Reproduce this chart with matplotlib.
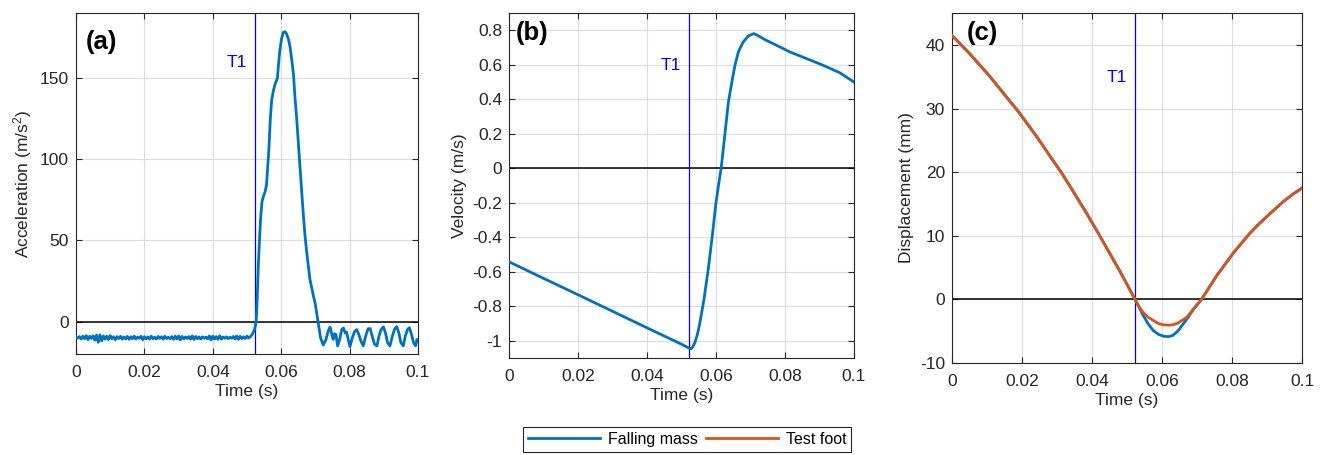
import numpy as np
import matplotlib
matplotlib.use("Agg")
import matplotlib.pyplot as plt

plt.rcParams['font.family'] = ['Liberation Sans', 'DejaVu Sans']
plt.rcParams['mathtext.default'] = 'regular'
plt.rcParams['axes.unicode_minus'] = False

T1 = 0.0523

# (a) acceleration, falling mass
acc_pre = [-9.6, -10.2, -9.3, -10.8, -9.0, -10.6, -8.7, -11.2, -9.1, -10.4,
           -8.8, -11.5, -8.4, -12.8, -8.2, -11.9, -8.9, -10.9, -9.0, -11.1,
           -8.7, -10.6, -9.4, -11.2, -9.3, -10.5, -9.1, -10.9, -9.5, -10.7,
           -9.2, -11.0, -9.4, -10.6, -9.0, -10.8, -9.6, -10.3, -9.1, -11.2,
           -9.3, -10.7, -9.5, -10.9, -9.0, -10.6, -9.6, -10.8, -9.2, -10.4,
           -9.4, -10.9, -9.1, -10.5, -9.7, -10.6, -9.3, -11.0, -9.0, -10.8,
           -8.9, -11.3, -9.2, -10.7, -9.5, -10.4, -9.3, -10.9, -8.8, -11.1,
           -9.2, -10.6, -9.5, -10.8, -9.4, -10.3, -9.6, -10.7, -8.9, -11.4,
           -9.0, -10.8, -9.3, -11.0, -8.8, -10.9, -9.5, -10.4, -9.4, -10.6,
           -9.7, -10.3, -9.2, -10.8, -8.9, -11.0, -9.1, -10.6, -9.4, -10.5,
           -9.0, -10.2, -9.3, -8.0]
t_acc_pre = np.arange(len(acc_pre)) * 0.0005

t_acc_post = [0.0522, 0.0527, 0.0530, 0.0533, 0.0537, 0.0540, 0.0544, 0.0548,
              0.0553, 0.0557, 0.0561, 0.0564, 0.0568, 0.0572, 0.0577, 0.0582,
              0.0589, 0.0592, 0.0596, 0.0601, 0.0606, 0.0611, 0.0616, 0.0621,
              0.0626, 0.0631, 0.0636, 0.0640, 0.0645, 0.0650, 0.0655, 0.0660,
              0.0665, 0.0670, 0.0675, 0.0680, 0.0684, 0.0690, 0.0695, 0.0699,
              0.0704, 0.0709, 0.0715, 0.0723, 0.0731, 0.0738, 0.0743, 0.0748,
              0.0752, 0.0756, 0.0760, 0.0765, 0.0771, 0.0777, 0.0782, 0.0787,
              0.0791, 0.0796, 0.0801, 0.0808, 0.0815, 0.0821, 0.0827, 0.0833,
              0.0840, 0.0847, 0.0854, 0.0860, 0.0866, 0.0873, 0.0880, 0.0886,
              0.0892, 0.0899, 0.0905, 0.0911, 0.0918, 0.0925, 0.0932, 0.0938,
              0.0944, 0.0950, 0.0957, 0.0963, 0.0969, 0.0975, 0.0981, 0.0987,
              0.0993, 0.0997, 0.1000]
acc_post = [-5, 0, 15, 34, 52, 64, 74, 77,
            80, 84, 97, 106, 124, 136, 142, 146,
            150, 158, 167, 174, 178, 178.5, 177, 174,
            169, 161, 152, 139, 126, 110, 95, 80,
            65, 52, 42, 33, 26, 20, 15, 11.5,
            5, -2, -10, -14.5, -11, -5.5, -3.5, -8,
            -11, -7.5, -8, -15, -11, -5, -4, -7,
            -6.5, -11, -15.5, -10, -6, -5, -8, -12,
            -15, -9, -4.5, -4.3, -9, -14, -15, -9,
            -5, -3.3, -7, -13, -15, -9, -4.5, -3.2,
            -7, -13, -15, -9, -5, -3.8, -8, -13,
            -15, -11, -12]

# (b) velocity, falling mass
t_vel = [0, 0.01, 0.02, 0.03, 0.04, 0.05, 0.0525, 0.0529, 0.0533, 0.0539,
         0.0546, 0.0552, 0.0565, 0.0578, 0.0590, 0.0600, 0.0608, 0.0615,
         0.0620, 0.0626, 0.0636, 0.0646, 0.0655, 0.0665, 0.0679, 0.0694,
         0.0710, 0.0723, 0.0742, 0.0776, 0.0814, 0.0863, 0.0911, 0.0959,
         0.1000]
vel = [-0.542, -0.638, -0.733, -0.829, -0.925, -1.02, -1.046, -1.045, -1.035,
       -1.01, -0.965, -0.91, -0.764, -0.58, -0.38, -0.20, -0.09, 0.0,
       0.09, 0.2, 0.383, 0.5, 0.597, 0.675, 0.733, 0.768,
       0.781, 0.768, 0.746, 0.713, 0.675, 0.636, 0.597, 0.554,
       0.5]

# (c) displacement
t_disp = [0, 0.0051, 0.0109, 0.0147, 0.019, 0.0242, 0.0289, 0.0313, 0.0337,
          0.0385, 0.0418, 0.0448, 0.048, 0.0523, 0.0535, 0.0547, 0.056,
          0.0575, 0.059, 0.0605, 0.0618, 0.063, 0.0645, 0.066, 0.0671,
          0.069, 0.0713, 0.0735, 0.0756, 0.078, 0.0804, 0.0828, 0.0851,
          0.0875, 0.0899, 0.0923, 0.0947, 0.0973, 0.1]
disp_mass = [41.5, 38.6, 35.0, 32.4, 29.5, 25.6, 21.8, 19.9, 17.8,
             13.5, 10.4, 7.5, 4.4, 0, -1.3, -2.6, -3.8,
             -4.9, -5.5, -5.8, -5.85, -5.7, -5.0, -3.9, -3.1,
             -1.56, 0, 1.9, 3.7, 5.5, 7.3, 8.9, 10.4,
             11.75, 13.0, 14.2, 15.4, 16.5, 17.5]
disp_foot = [41.5, 38.6, 35.0, 32.4, 29.5, 25.6, 21.8, 19.9, 17.8,
             13.5, 10.4, 7.5, 4.4, 0, -1.2, -2.1, -2.8,
             -3.3, -3.8, -4.0, -4.05, -4.0, -3.75, -3.2, -2.8,
             -1.5, 0, 1.9, 3.7, 5.5, 7.3, 8.9, 10.4,
             11.75, 13.0, 14.2, 15.4, 16.5, 17.5]

blue = '#0072BD'
red = '#D95319'
dark = '#262626'
fs = 12.5

fig = plt.figure(figsize=(13.24, 4.55), dpi=100)
ax_a = fig.add_axes([0.0574, 0.222, 0.2583, 0.7495])
ax_b = fig.add_axes([0.3844, 0.2132, 0.2606, 0.758])
ax_c = fig.add_axes([0.719, 0.2022, 0.2644, 0.769])


def style(ax, ylim, yticks, ylabel, tag, tagpos, t1y):
    ax.set_xlim(0, 0.1)
    ax.set_ylim(*ylim)
    ax.set_xticks([0, 0.02, 0.04, 0.06, 0.08, 0.1])
    ax.set_xticklabels(['0', '0.02', '0.04', '0.06', '0.08', '0.1'])
    ax.set_yticks(yticks)
    ax.set_yticklabels(['%g' % v for v in yticks])
    ax.grid(True, color='#dcdcdc', lw=0.8)
    ax.set_axisbelow(True)
    ax.axhline(0, color='black', lw=1.1, zorder=2)
    ax.axvline(T1, color='#0000FF', lw=0.9, zorder=2)
    ax.annotate('T1', xy=(T1, t1y), xytext=(-6, 0), textcoords='offset points',
                ha='right', va='center', color='#0000FF', fontsize=fs)
    ax.tick_params(direction='in', top=True, right=True, length=4, width=0.8,
                   colors=dark, labelsize=fs, pad=5)
    ax.tick_params(axis='x', pad=8)
    for s in ax.spines.values():
        s.set_color(dark)
        s.set_linewidth(0.8)
    ax.set_xlabel('Time (s)', fontsize=fs, color=dark, labelpad=3)
    ax.set_ylabel(ylabel, fontsize=fs, color=dark, labelpad=4)
    ax.text(tagpos[0], tagpos[1], tag, transform=ax.transAxes, fontsize=18.5,
            fontweight='bold', va='center', ha='left')


ax_a.plot(np.concatenate([t_acc_pre, t_acc_post]), acc_pre + acc_post,
          color=blue, lw=2, zorder=3)
style(ax_a, (-20, 190), [0, 50, 100, 150], 'Acceleration (m/s$^2$)', '(a)',
      (0.029, 0.915), 159.5)

ax_b.plot(t_vel, vel, color=blue, lw=2, zorder=3)
style(ax_b, (-1.1, 0.9), [-1, -0.8, -0.6, -0.4, -0.2, 0, 0.2, 0.4, 0.6, 0.8],
      'Velocity (m/s)', '(b)', (0.02, 0.942), 0.597)

l1, = ax_c.plot(t_disp, disp_mass, color=blue, lw=2, zorder=3)
l2, = ax_c.plot(t_disp, disp_foot, color=red, lw=2, zorder=4)
style(ax_c, (-10, 45), [-10, 0, 10, 20, 30, 40], 'Displacement (mm)', '(c)',
      (0.043, 0.943), 34.8)

leg = fig.legend([l1, l2], ['Falling mass', 'Test foot'], loc='center',
                 bbox_to_anchor=(0.519, 0.034), ncol=2, fontsize=11.5,
                 frameon=True, fancybox=False, edgecolor=dark, framealpha=1,
                 handlelength=4.5, columnspacing=0.5, handletextpad=0.5,
                 borderpad=0.3)
leg.get_frame().set_linewidth(0.8)

fig.savefig('out.png', dpi=100)
